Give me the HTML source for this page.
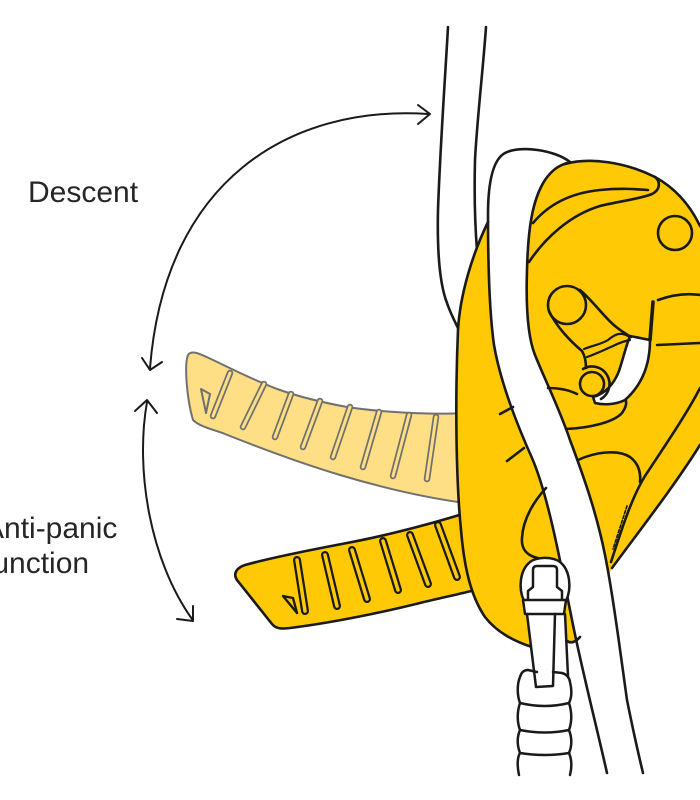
<!DOCTYPE html>
<html><head><meta charset="utf-8"><style>
html,body{margin:0;padding:0;background:#fff;}
svg{display:block;}
text{font-family:"Liberation Sans",sans-serif;}
</style></head><body>
<svg width="700" height="800" viewBox="0 0 700 800" xmlns="http://www.w3.org/2000/svg">
<rect width="700" height="800" fill="#fff"/>

<!-- labels -->
<text x="28" y="202" font-size="30" fill="#262626">Descent</text>
<text x="-16" y="538" font-size="30" fill="#262626">Anti-panic</text>
<text x="-16" y="573" font-size="30" fill="#262626">function</text>

<!-- arrows -->
<g fill="none" stroke="#1a1a1a" stroke-width="2" stroke-linecap="round" stroke-linejoin="round">
  <path d="M428,114 C290,105 165,180 150,368"/>
  <path d="M418,105 L430,114 L418,124"/>
  <path d="M142,358 L150,370 L162,362"/>
  <path d="M147,402 C135,470 150,560 192,619"/>
  <path d="M135,411 L147,400 L157,413"/>
  <path d="M177,619 L193,621 L193,606"/>
</g>

<!-- top rope -->
<g fill="none" stroke="#1a1a1a" stroke-width="2.6" stroke-linecap="round">
  <path d="M448,27 C445,80 440,150 438,210 C437,255 440,285 447,303 C450,312 454,320 458,328"/>
  <path d="M486,27 C483,70 477,120 475,160 C474,200 475,225 477,250"/>
</g>

<!-- ghost handle -->
<path d="M465,413 C430,415 380,412 347,407 C320,402 300,397 280,390 C255,381 230,368 213,360 C202,355 192,349 188,355 C184,365 187,400 193,420 C200,427 215,430 225,434 C260,448 300,463 340,475 C380,487 420,497 465,503 Z" fill="#FFDF86" stroke="#707070" stroke-width="2"/>
<g stroke-linecap="round" fill="none">
  <g stroke="#707070" stroke-width="6.5">
    <path d="M230,373 L213,416"/><path d="M264,384 L243,427"/><path d="M291,394 L275,437"/><path d="M320,401 L303,447"/>
    <path d="M350,407 L333,457"/><path d="M379,412 L363,467"/><path d="M409,415 L393,476"/><path d="M436,417 L427,479"/>
  </g>
  <g stroke="#FFDF86" stroke-width="3">
    <path d="M230,373 L213,416"/><path d="M264,384 L243,427"/><path d="M291,394 L275,437"/><path d="M320,401 L303,447"/>
    <path d="M350,407 L333,457"/><path d="M379,412 L363,467"/><path d="M409,415 L393,476"/><path d="M436,417 L427,479"/>
  </g>
</g>
<path d="M201,389 L210,394 L206,413 Z" fill="#FFDF86" stroke="#707070" stroke-width="2" stroke-linejoin="round"/>

<!-- real handle -->
<path d="M475,510 C445,520 390,535 347,543 C310,550 270,558 245,565 C236,568 233,574 237,580 L272,624 C276,629 282,629 290,628 C330,623 380,613 420,603 C440,598 460,594 475,590 Z" fill="#FFC905" stroke="#1a1a1a" stroke-width="2.6"/>
<g stroke-linecap="round" fill="none">
  <g stroke="#1a1a1a" stroke-width="8">
    <path d="M297,560 L305,611"/><path d="M325,555 L337,606"/><path d="M352,550 L367,599"/>
    <path d="M383,541 L398,590"/><path d="M410,535 L428,584"/><path d="M438,525 L457,577"/>
  </g>
  <g stroke="#FFC905" stroke-width="3.5">
    <path d="M297,560 L305,611"/><path d="M325,555 L337,606"/><path d="M352,550 L367,599"/>
    <path d="M383,541 L398,590"/><path d="M410,535 L428,584"/><path d="M438,525 L457,577"/>
  </g>
</g>
<path d="M283,596 L293,598 L297,613 Z" fill="#FFC905" stroke="#1a1a1a" stroke-width="2.4" stroke-linejoin="round"/>

<!-- body fill -->
<path d="M488,222 C472,255 460,295 458,330 C455,400 456,480 461,530 C464,565 470,595 485,617 C495,630 510,640 532,647 L535,660 L560,660 L567,642 Q574,644 579,636 L612,568 C640,530 675,485 700,445 L700,226 C690,205 675,188 655,177 C625,162 590,157 565,164 L520,170 L493,205 Z" fill="#FFC905"/>

<!-- rope loop band -->
<path d="M570,162 C555,150 520,145 505,153 C492,160 488,185 488,215 C488,260 489,310 494,345 C500,380 515,420 532,458 C548,495 560,560 572,620 C582,670 595,720 607,773 L643,773 C635,740 630,715 627,700 C620,650 613,595 605,555 C597,515 585,480 570,440 C560,410 545,380 535,355 C527,335 526,300 527,270 C528,230 532,200 545,180 C552,170 558,166 567,163 Z" fill="#fff"/>

<!-- crescent -->
<path d="M630,336 L650,340 C650,365 642,385 625,400 C615,405 603,405 595,403 L593,397 C605,394 614,384 619,371 C623,359 626,346 630,336 Z" fill="#fff" stroke="#1a1a1a" stroke-width="2.6" stroke-linejoin="round"/>

<g fill="none" stroke="#1a1a1a" stroke-width="2.6" stroke-linecap="round" stroke-linejoin="round">
  <!-- outlines -->
  <path d="M488,222 C472,255 460,295 458,330 C455,400 456,480 461,530 C464,565 470,595 485,617 C495,630 510,640 532,647"/>
  <path d="M565,164 C590,157 625,162 655,177 C675,188 690,205 700,226"/>
  <path d="M612,568 C640,530 675,485 700,445"/>
  <path d="M567,641 Q573,645 580,637"/>
  <!-- rope loop edges -->
  <path d="M570,162 C555,150 520,145 505,153 C492,160 488,185 488,215 C488,260 489,310 494,345 C500,380 515,420 532,458 C548,495 560,560 572,620 C582,670 595,720 607,773"/>
  <path d="M643,773 C635,740 630,715 627,700 C620,650 613,595 605,555 C597,515 585,480 570,440 C560,410 545,380 535,355 C527,335 526,300 527,270 C528,230 532,200 545,180 C552,170 558,166 567,163"/>
  <!-- plate lines -->
  <path d="M533,223 C548,205 570,193 600,190 C620,188 635,189 648,190"/>
  <path d="M529,262 C545,238 570,215 600,206 C620,201 640,199 652,194 C660,190 661,182 655,177"/>
  <circle cx="675" cy="233" r="17"/>
  <!-- cam -->
  <circle cx="567" cy="305" r="19"/>
  <path d="M580,290 C592,300 605,318 615,326 C621,331 626,334 631,337"/>
  <path d="M549,311 C556,326 570,341 582,351 C585,356 586,362 586,368"/>
  <path d="M584,349 C594,345 602,344 608,340 C613,336 619,331 628,336" stroke-width="2.2"/>
  <path d="M587,357 C598,353 606,349 613,346 C619,343 624,341 630,340" stroke-width="2.2"/>
  <circle cx="592" cy="384" r="12"/>
  <path d="M583,369 A17,17 0 0 1 601,399"/>
  <path d="M653,302 L650,340" stroke-width="3.6"/>
  <path d="M658,300 Q680,292 700,295"/>
  <path d="M657,345 L700,343"/>
  <path d="M548,388 Q565,388 577,394"/>
  <path d="M566,429 C590,428 614,422 622,413 Q627,406 626,401"/>
  <!-- side plate -->
  <path d="M700,388 C688,412 662,450 645,476 C632,497 622,528 611,562"/>
  <path d="M627,506 L613,549" stroke-width="1.6" stroke-dasharray="3 2"/>
  <path d="M578,460 C595,452 618,449 630,457 C638,463 641,472 640,482"/>
  <path d="M546,488 C535,500 523,518 522,538 C521,550 528,556 538,558"/>
  <!-- stubs -->
  <path d="M500,414 L513,407"/>
  <path d="M507,461 L524,448"/>
</g>

<!-- connector -->
<g stroke="#1a1a1a" stroke-width="2.5" stroke-linejoin="round" stroke-linecap="round">
  <path d="M524,601 C518,588 520,570 530,562 C536,557 552,556 560,562 C570,570 572,588 566,601 Z" fill="#fff"/>
  <path d="M528,601 L528,591 L533,587 L533,570 Q533,566 537,566 L553,566 Q557,566 557,570 L557,587 L562,591 L562,601" fill="#fff"/>
  <path d="M519,775 L519,676 L528,670 L562,673 L570,682 L570,775 Z" fill="#fff" stroke="none"/>
  <path d="M527,614 L536,687 L568,687 L565,614 Z" fill="#fff" stroke="none"/>
  <path d="M523,600 L566,600 L564,614 L525,614 Z" fill="#fff"/>
  <g fill="none">
    <path d="M527,614 L536,687 L553,686 L555,614"/>
    <path d="M565,614 L568,676"/>
    <path d="M519,775 C517,765 517,758 520,753 C517,745 517,737 520,730 C517,722 517,712 520,703 C517,695 517,684 520,677 Q522,670 528,670 L537,672"/>
    <path d="M553,672 L562,673 Q569,675 570,682 C572,690 572,697 569,703 C572,712 572,722 569,730 C572,738 572,746 569,753 C572,760 572,767 570,775"/>
    <path d="M520,703 Q545,709 569,703"/>
    <path d="M520,730 Q545,735 569,730"/>
    <path d="M520,753 Q545,757 569,753"/>
  </g>
</g>
</svg>
</body></html>
